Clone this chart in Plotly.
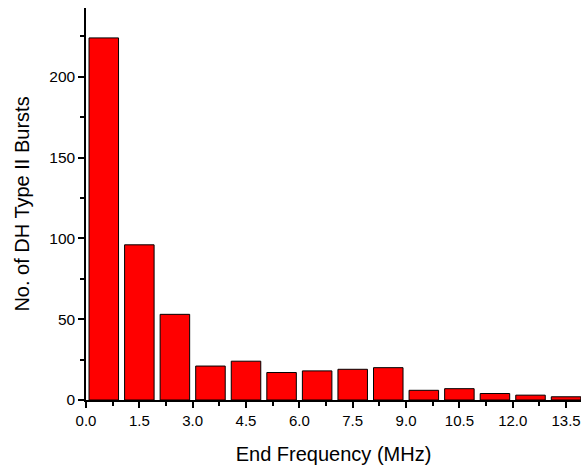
import plotly.graph_objects as go

centers = [0.5, 1.5, 2.5, 3.5, 4.5, 5.5, 6.5, 7.5, 8.5, 9.5, 10.5, 11.5, 12.5, 13.5]
counts = [224, 96, 53, 21, 24, 17, 18, 19, 20, 6, 7, 4, 3, 2]
x_ticks = [0.0, 1.5, 3.0, 4.5, 6.0, 7.5, 9.0, 10.5, 12.0, 13.5]
y_ticks = [0, 50, 100, 150, 200]

fig = go.Figure(go.Bar(
    x=centers, y=counts, width=0.83,
    marker=dict(color="#FF0000", line=dict(color="#000000", width=1)),
))

font = "Liberation Sans, Arial, sans-serif"
fig.update_layout(
    width=581, height=468,
    margin=dict(l=86, r=0, t=8, b=68),
    paper_bgcolor="white", plot_bgcolor="white",
    showlegend=False,
    font=dict(family=font, size=15.5, color="black"),
)
fig.update_xaxes(
    range=[0, 13.92], tickvals=x_ticks, ticktext=[f"{v:.1f}" for v in x_ticks],
    tickfont=dict(size=15),
    showline=True, linecolor="black", linewidth=1.5, mirror=False,
    ticks="outside", ticklen=6, tickwidth=1.5, tickcolor="black",
    showgrid=False, zeroline=False,
    minor=dict(tickvals=[0.75 + 1.5 * i for i in range(10)], ticks="outside", ticklen=4, tickwidth=1.5, tickcolor="black", showgrid=False),
    title=dict(text="End Frequency (MHz)", font=dict(size=20), standoff=19),
)
fig.update_yaxes(
    range=[0, 242.5], tickvals=y_ticks,
    showline=True, linecolor="black", linewidth=1.5,
    ticks="outside", ticklen=6, tickwidth=1.5, tickcolor="black",
    showgrid=False, zeroline=False,
    minor=dict(tickvals=[25, 75, 125, 175, 225], ticks="outside", ticklen=4, tickwidth=1.5, tickcolor="black", showgrid=False),
    title=dict(text="No. of DH Type II Bursts", font=dict(size=20), standoff=14),
)
fig.write_html("out.html")
